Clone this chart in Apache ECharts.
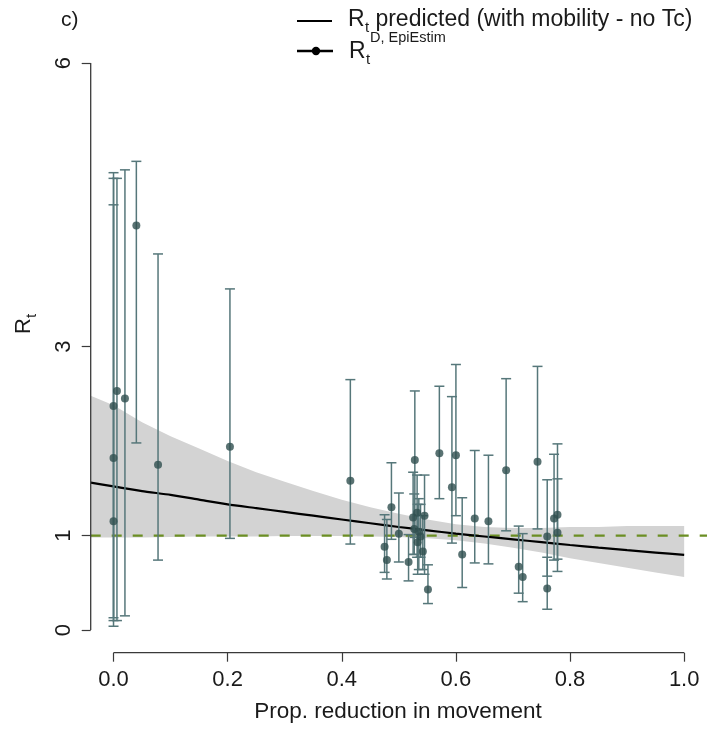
<!DOCTYPE html>
<html><head><meta charset="utf-8">
<script src="https://cdn.jsdelivr.net/npm/echarts@6/dist/echarts.min.js"></script>
<style>html,body{margin:0;padding:0;background:#fff}#c{width:708px;height:731px}</style>
</head><body><div id="c"></div>
<script>
// ---- data ----
const ptX  = [0.000,0.000,0.000,0.006,0.020,0.040,0.078,0.204,0.415,0.475,0.479,0.487,0.500,0.517,0.528,0.525,0.532,0.545,0.527,0.535,0.533,0.538,0.542,0.551,0.571,0.593,0.600,0.611,0.633,0.657,0.688,0.710,0.717,0.743,0.760,0.760,0.772,0.778,0.778];
const ptY  = [2.37,1.82,1.15,2.53,2.45,4.28,1.75,1.94,1.58,0.88,0.74,1.30,1.02,0.72,1.80,1.19,1.24,1.21,1.07,1.04,0.93,0.99,0.83,0.43,1.87,1.51,1.85,0.80,1.18,1.15,1.69,0.67,0.56,1.78,0.99,0.44,1.18,1.22,1.03];
const ptLo = [0.10,0.04,0.13,0.10,0.15,1.98,0.74,0.97,0.91,0.61,0.54,0.96,0.72,0.52,0.98,0.80,0.77,0.59,0.80,0.64,0.59,0.77,0.64,0.28,1.39,0.92,1.21,0.45,0.71,0.70,1.05,0.39,0.30,1.07,0.57,0.22,0.74,0.62,0.75];
const ptHi = [4.84,4.50,4.78,4.78,4.87,4.96,3.98,3.61,2.65,1.22,1.17,1.77,1.45,1.01,2.53,1.67,1.64,1.64,1.44,1.39,1.33,1.33,1.21,0.69,2.58,2.47,2.81,1.40,1.90,1.85,2.66,1.10,1.02,2.79,1.59,0.77,1.86,1.97,1.60];

const fitX   = [-0.04,0.00,0.05,0.10,0.15,0.20,0.25,0.30,0.35,0.40,0.45,0.50,0.55,0.60,0.65,0.70,0.75,0.80,0.85,0.90,0.95,1.00];
const fitY   = [1.56,1.52,1.47,1.43,1.38,1.33,1.29,1.25,1.21,1.17,1.13,1.09,1.055,1.02,0.99,0.96,0.93,0.90,0.872,0.845,0.82,0.795];
const bandUp = [2.48,2.38,2.20,2.05,1.92,1.79,1.67,1.57,1.47,1.38,1.30,1.23,1.17,1.12,1.09,1.08,1.08,1.09,1.09,1.10,1.10,1.10];
const bandLo = [0.98,0.98,0.98,0.985,0.99,0.99,0.99,0.995,0.995,0.995,0.99,0.985,0.97,0.95,0.915,0.87,0.82,0.76,0.71,0.66,0.61,0.56];

const xTicks = [0,0.2,0.4,0.6,0.8,1.0];
const yTicks = [0,1,3,6];
const refY = 1;
const xRange = [-0.04,1.04];
const yRange = [-0.24,6.24];

const FONT = '"Liberation Sans", Arial, sans-serif';
const TXT = '#1a1a1a';
const AX = '#3a3a3a';

const chart = echarts.init(document.getElementById('c'), null, {renderer:'canvas'});

const pts = ptX.map((x,i)=>[x, ptY[i]]);
const bars = ptX.map((x,i)=>[x, ptLo[i], ptHi[i]]);
const fit = fitX.map((x,i)=>[x, fitY[i]]);

function txt(x,y,s,size,align,extra){
  return Object.assign({type:'text', x:x, y:y, silent:true,
    style:{text:s, fontSize:size, fontFamily:FONT, fill:TXT, align:align||'left', verticalAlign:'middle'}}, extra||{});
}

chart.setOption({
  animation:false,
  backgroundColor:'#fff',
  grid:{left:90.7, right:1, top:40.4, bottom:78.3, containLabel:false},
  xAxis:{type:'value', min:xRange[0], max:xRange[1],
    axisLine:{show:false, onZero:false}, splitLine:{show:false},
    axisTick:{show:true, length:9, customValues:xTicks, lineStyle:{color:AX, width:1.2}},
    axisLabel:{customValues:xTicks, margin:16, fontSize:22, color:TXT, fontFamily:FONT,
      formatter:v=>v.toFixed(1)}},
  yAxis:{type:'value', min:yRange[0], max:yRange[1],
    axisLine:{show:false, onZero:false}, splitLine:{show:false},
    axisTick:{show:true, length:9, customValues:yTicks, lineStyle:{color:AX, width:1.2}},
    axisLabel:{customValues:yTicks, rotate:90, margin:16, fontSize:22, color:TXT, fontFamily:FONT}},
  series:[
    {type:'custom', name:'band', data:[0], silent:true, z:1,
      renderItem:(p,api)=>{
        const up = fitX.map((x,i)=>api.coord([x,bandUp[i]]));
        const lo = fitX.map((x,i)=>api.coord([x,bandLo[i]])).reverse();
        return {type:'polygon', shape:{points:up.concat(lo)}, style:{fill:'#d3d3d3', stroke:null}};
      }},
    {type:'line', name:'ref', data:[[xRange[0],refY],[xRange[1],refY]], showSymbol:false, silent:true, z:2,
      lineStyle:{color:'#6b8e23', width:2.3, type:[10,11]}},
    {type:'line', name:'fit', data:fit, smooth:0.2, showSymbol:false, silent:true, z:3,
      lineStyle:{color:'#000', width:2.2}},
    {type:'custom', name:'err', data:bars, silent:true, z:4,
      renderItem:(p,api)=>{
        const x=api.value(0), lo=api.value(1), hi=api.value(2);
        const a=api.coord([x,hi]), b=api.coord([x,lo]);
        const st={stroke:'#56777a', lineWidth:1.5};
        return {type:'group', children:[
          {type:'line', shape:{x1:a[0],y1:a[1],x2:b[0],y2:b[1]}, style:st},
          {type:'line', shape:{x1:a[0]-5,y1:a[1],x2:a[0]+5,y2:a[1]}, style:st},
          {type:'line', shape:{x1:b[0]-5,y1:b[1],x2:b[0]+5,y2:b[1]}, style:st}
        ]};
      }},
    {type:'scatter', name:'pts', data:pts, symbol:'circle', symbolSize:8, silent:true, z:5,
      itemStyle:{color:'#2f4f4f'}},
    {type:'line', name:'yaxisline', data:[[xRange[0],yTicks[0]],[xRange[0],yTicks[yTicks.length-1]]],
      showSymbol:false, silent:true, clip:false, z:6, lineStyle:{color:AX, width:1.3}},
    {type:'line', name:'xaxisline', data:[[xTicks[0],yRange[0]],[xTicks[xTicks.length-1],yRange[0]]],
      showSymbol:false, silent:true, clip:false, z:6, lineStyle:{color:AX, width:1.3}}
  ],
  graphic:[
    txt(61,20,'c)',21),
    txt(398,712,'Prop. reduction in movement',22.5,'center'),
    {type:'group', x:25, y:325, rotation:Math.PI/2, silent:true, children:[
      txt(-9,-1,'R',22,'left'),
      txt(7,7,'t',15,'left')
    ]},
    // legend
    {type:'line', silent:true, shape:{x1:297,y1:21,x2:332,y2:21}, style:{stroke:'#000', lineWidth:2}},
    txt(348,20,'R',23,'left'),
    txt(365,28,'t',15,'left'),
    txt(369,20,' predicted (with mobility - no Tc)',23,'left'),
    {type:'line', silent:true, shape:{x1:297,y1:51,x2:333,y2:51}, style:{stroke:'#000', lineWidth:2.6}},
    {type:'circle', silent:true, shape:{cx:316,cy:51,r:4.2}, style:{fill:'#000'}},
    txt(349,52,'R',23,'left'),
    txt(366,60,'t',15,'left'),
    txt(370,38,'D, EpiEstim',14.5,'left')
  ]
});
</script></body></html>
